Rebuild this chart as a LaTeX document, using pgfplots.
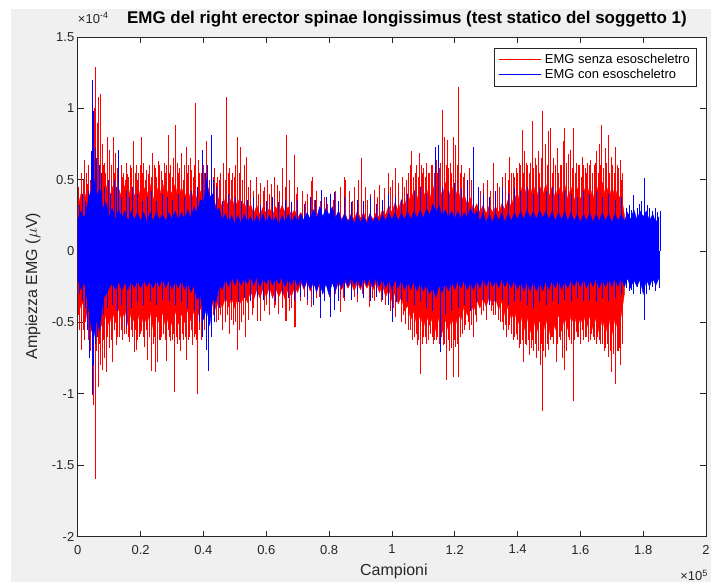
\documentclass[border=0pt]{standalone}
\usepackage{fontspec}
\setmainfont{Liberation Sans}
\usepackage{pgfplots}
\pgfplotsset{compat=1.18}
\usepackage{pgfplotstable}
\definecolor{figgray}{RGB}{240,240,240}
\definecolor{axgray}{RGB}{38,38,38}

\pgfplotstableread{
x u l
0 0.30 -0.30
1 0.40 -0.40
2 0.34 -0.33
3 0.44 -0.48
4 0.38 -0.58
5 0.50 -0.50
6 0.42 -0.60
7 0.50 -0.48
8 0.40 -0.55
9 0.46 -0.44
10 0.36 -0.52
11 0.45 -0.42
12 0.34 -0.50
13 0.44 -0.40
14 0.37 -0.49
15 0.46 -0.41
16 0.35 -0.52
17 0.47 -0.43
18 0.38 -0.50
19 0.48 -0.42
20 0.36 -0.54
21 0.45 -0.44
22 0.39 -0.52
23 0.47 -0.42
24 0.35 -0.55
25 0.46 -0.45
26 0.38 -0.51
27 0.48 -0.43
28 0.36 -0.54
29 0.45 -0.44
30 0.40 -0.52
31 0.47 -0.42
32 0.35 -0.51
33 0.45 -0.44
34 0.37 -0.50
35 0.44 -0.41
36 0.34 -0.49
37 0.43 -0.42
38 0.36 -0.47
39 0.42 -0.40
40 0.34 -0.44
41 0.40 -0.36
42 0.32 -0.42
43 0.39 -0.34
44 0.31 -0.41
45 0.38 -0.33
46 0.30 -0.40
47 0.37 -0.32
48 0.31 -0.39
49 0.38 -0.33
50 0.30 -0.40
51 0.36 -0.31
52 0.29 -0.37
53 0.34 -0.30
54 0.27 -0.36
55 0.33 -0.28
56 0.26 -0.34
57 0.32 -0.27
58 0.25 -0.33
59 0.31 -0.26
60 0.26 -0.32
61 0.30 -0.25
62 0.25 -0.33
63 0.31 -0.26
64 0.26 -0.32
65 0.32 -0.27
66 0.27 -0.34
67 0.31 -0.26
68 0.25 -0.32
69 0.29 -0.25
70 0.23 -0.29
71 0.27 -0.22
72 0.21 -0.27
73 0.26 -0.21
74 0.22 -0.28
75 0.27 -0.22
76 0.21 -0.26
77 0.26 -0.21
78 0.22 -0.27
79 0.27 -0.22
80 0.21 -0.26
81 0.26 -0.21
82 0.22 -0.28
83 0.28 -0.22
84 0.22 -0.27
85 0.27 -0.21
86 0.21 -0.26
87 0.26 -0.22
88 0.22 -0.28
89 0.28 -0.22
90 0.23 -0.27
91 0.27 -0.21
92 0.21 -0.26
93 0.26 -0.22
94 0.22 -0.27
95 0.27 -0.22
96 0.23 -0.29
97 0.29 -0.24
98 0.25 -0.32
99 0.32 -0.27
100 0.27 -0.35
101 0.34 -0.29
102 0.28 -0.37
103 0.36 -0.32
104 0.31 -0.42
105 0.40 -0.38
106 0.34 -0.48
107 0.43 -0.42
108 0.36 -0.53
109 0.45 -0.44
110 0.37 -0.54
111 0.44 -0.45
112 0.35 -0.52
113 0.46 -0.46
114 0.38 -0.56
115 0.47 -0.46
116 0.38 -0.57
117 0.48 -0.48
118 0.37 -0.56
119 0.46 -0.47
120 0.36 -0.55
121 0.44 -0.44
122 0.34 -0.48
123 0.40 -0.38
124 0.32 -0.45
125 0.37 -0.36
126 0.28 -0.42
127 0.33 -0.34
128 0.27 -0.40
129 0.32 -0.33
130 0.26 -0.39
131 0.32 -0.32
132 0.27 -0.38
133 0.31 -0.33
134 0.27 -0.41
135 0.33 -0.35
136 0.29 -0.45
137 0.36 -0.38
138 0.31 -0.48
139 0.40 -0.41
140 0.34 -0.52
141 0.45 -0.44
142 0.37 -0.56
143 0.46 -0.46
144 0.38 -0.57
145 0.47 -0.46
146 0.37 -0.58
147 0.46 -0.48
148 0.39 -0.60
149 0.47 -0.47
150 0.38 -0.58
151 0.45 -0.45
152 0.37 -0.55
153 0.46 -0.44
154 0.38 -0.56
155 0.47 -0.46
156 0.36 -0.55
157 0.45 -0.45
158 0.35 -0.52
159 0.44 -0.43
160 0.36 -0.51
161 0.45 -0.44
162 0.37 -0.54
163 0.46 -0.45
164 0.36 -0.55
165 0.47 -0.46
166 0.39 -0.58
167 0.48 -0.47
168 0.38 -0.58
169 0.46 -0.46
170 0.37 -0.59
171 0.45 -0.47
172 0.36 -0.56
173 0.40 -0.45
174 0.25 -0.30
}\redcore

\pgfplotstableread{
x u l
0 0.22 -0.20
1 0.28 -0.27
2 0.23 -0.22
3 0.32 -0.34
4 0.40 -0.50
5 0.52 -0.62
6 0.38 -0.48
7 0.44 -0.56
8 0.30 -0.34
9 0.34 -0.30
10 0.24 -0.26
11 0.30 -0.22
12 0.22 -0.27
13 0.29 -0.21
14 0.23 -0.28
15 0.28 -0.22
16 0.21 -0.27
17 0.28 -0.21
18 0.22 -0.26
19 0.27 -0.20
20 0.21 -0.26
21 0.27 -0.20
22 0.20 -0.25
23 0.27 -0.21
24 0.21 -0.26
25 0.28 -0.20
26 0.22 -0.25
27 0.26 -0.19
28 0.21 -0.26
29 0.27 -0.20
30 0.22 -0.27
31 0.28 -0.21
32 0.21 -0.26
33 0.27 -0.20
34 0.22 -0.27
35 0.29 -0.22
36 0.23 -0.29
37 0.31 -0.24
38 0.27 -0.34
39 0.36 -0.30
40 0.34 -0.48
41 0.50 -0.40
42 0.38 -0.52
43 0.40 -0.34
44 0.28 -0.36
45 0.30 -0.24
46 0.21 -0.27
47 0.26 -0.19
48 0.20 -0.25
49 0.25 -0.18
50 0.19 -0.24
51 0.25 -0.18
52 0.19 -0.24
53 0.26 -0.19
54 0.20 -0.23
55 0.24 -0.17
56 0.19 -0.24
57 0.25 -0.18
58 0.20 -0.25
59 0.26 -0.19
60 0.19 -0.23
61 0.25 -0.18
62 0.20 -0.24
63 0.24 -0.19
64 0.18 -0.23
65 0.25 -0.18
66 0.20 -0.25
67 0.26 -0.19
68 0.19 -0.24
69 0.25 -0.18
70 0.20 -0.25
71 0.26 -0.19
72 0.21 -0.26
73 0.27 -0.20
74 0.22 -0.27
75 0.29 -0.21
76 0.23 -0.29
77 0.31 -0.22
78 0.24 -0.30
79 0.30 -0.23
80 0.25 -0.31
81 0.31 -0.22
82 0.23 -0.28
83 0.28 -0.20
84 0.21 -0.26
85 0.26 -0.19
86 0.20 -0.25
87 0.25 -0.18
88 0.19 -0.24
89 0.26 -0.19
90 0.20 -0.25
91 0.25 -0.18
92 0.19 -0.24
93 0.26 -0.19
94 0.20 -0.25
95 0.25 -0.18
96 0.20 -0.25
97 0.26 -0.19
98 0.21 -0.26
99 0.27 -0.20
100 0.22 -0.27
101 0.27 -0.20
102 0.21 -0.26
103 0.27 -0.20
104 0.22 -0.27
105 0.28 -0.21
106 0.22 -0.27
107 0.28 -0.21
108 0.23 -0.28
109 0.29 -0.22
110 0.23 -0.28
111 0.30 -0.23
112 0.25 -0.30
113 0.33 -0.25
114 0.27 -0.33
115 0.32 -0.24
116 0.24 -0.29
117 0.29 -0.22
118 0.23 -0.28
119 0.28 -0.21
120 0.22 -0.27
121 0.28 -0.21
122 0.22 -0.26
123 0.27 -0.20
124 0.23 -0.27
125 0.30 -0.22
126 0.24 -0.27
127 0.28 -0.20
128 0.21 -0.26
129 0.27 -0.19
130 0.20 -0.25
131 0.26 -0.19
132 0.20 -0.25
133 0.27 -0.20
134 0.21 -0.26
135 0.27 -0.19
136 0.20 -0.25
137 0.27 -0.20
138 0.21 -0.26
139 0.27 -0.20
140 0.22 -0.27
141 0.28 -0.21
142 0.22 -0.28
143 0.29 -0.21
144 0.23 -0.28
145 0.28 -0.21
146 0.22 -0.28
147 0.29 -0.22
148 0.23 -0.28
149 0.28 -0.21
150 0.22 -0.27
151 0.28 -0.20
152 0.21 -0.26
153 0.27 -0.20
154 0.22 -0.27
155 0.28 -0.21
156 0.21 -0.26
157 0.27 -0.20
158 0.21 -0.25
159 0.26 -0.19
160 0.20 -0.25
161 0.26 -0.19
162 0.21 -0.26
163 0.27 -0.20
164 0.20 -0.25
165 0.26 -0.19
166 0.21 -0.26
167 0.27 -0.20
168 0.21 -0.25
169 0.26 -0.19
170 0.20 -0.25
171 0.26 -0.19
172 0.21 -0.25
173 0.26 -0.19
174 0.21 -0.25
175 0.27 -0.19
176 0.22 -0.26
177 0.29 -0.20
178 0.22 -0.25
179 0.28 -0.20
180 0.24 -0.30
181 0.28 -0.20
182 0.21 -0.25
183 0.26 -0.19
184 0.20 -0.24
185 0.24 -0.19
}\bluecore

\begin{document}
\begin{tikzpicture}
\fill[white] (0pt,0pt) rectangle (713pt,587pt);
\fill[figgray] (11pt,3pt) rectangle (713pt,578pt);
\begin{axis}[
  at={(78pt,49pt)}, anchor=south west,
  scale only axis, width=630pt, height=501pt,
  xmin=0, xmax=200, ymin=-2, ymax=1.5,
  xtick={0,20,...,200},
  xticklabels={0,0.2,0.4,0.6,0.8,1,1.2,1.4,1.6,1.8,2},
  ytick={-2,-1.5,-1,-0.5,0,0.5,1,1.5},
  yticklabels={-2,-1.5,-1,-0.5,0,0.5,1,1.5},
  tick align=inside, major tick length=6pt,
  axis line style={axgray, line width=0.6pt},
  tick style={axgray, line width=0.6pt},
  ticklabel style={font=\fontsize{13}{15}\selectfont, text=axgray},
  xticklabel style={yshift=-5pt},
  axis background/.style={fill=white},
  legend style={at={(0.984,0.978)}, anchor=north east,
    font=\fontsize{13}{15}\selectfont, draw=axgray, line width=0.5pt,
    inner xsep=4pt, inner ysep=4pt, row sep=0pt, cells={anchor=west}},
  legend image code/.code={\draw[#1, line width=0.5pt] (-2pt,0pt) -- (40pt,0pt);},
]
\addlegendimage{draw=red}
\addlegendentry{\hspace{2pt}EMG senza esoscheletro}
\addlegendimage{draw=blue}
\addlegendentry{\hspace{2pt}EMG con esoscheletro}

% red core
\addplot[fill=red, draw=red, line width=0.4pt, forget plot] table[x=x,y=u]{\redcore} \closedcycle;
\addplot[fill=red, draw=red, line width=0.4pt, forget plot] table[x=x,y=l]{\redcore} \closedcycle;
% red spikes
\addplot[ycomb, red, line width=0.6pt, forget plot] coordinates {
(0.3,0.45)(1.6,0.5)(2.6,0.55)(3.5,0.6)(4.5,0.58)(8.0,0.6)(8.9,0.55)(9.9,0.58)(10.7,0.6)(11.6,0.55)(12.5,0.58)(14.2,0.52)(15,0.5)(15.8,0.54)(16.6,0.6)(18.2,0.55)(19,0.5)(19.8,0.6)(20.6,0.55)(21.4,0.5)(22.3,0.54)(23.3,0.52)(24.2,0.6)(25.1,0.52)(26.1,0.6)(27,0.5)(27.9,0.55)(28.3,0.6)(29.1,0.55)(30,0.52)(30.4,0.65)(32,0.55)(32.8,0.62)(33.6,0.5)(34,0.6)(34.9,0.55)(35.8,0.65)(36.7,0.52)(37,0.6)(38.8,0.55)(39.6,0.5)(40.4,0.55)(41.3,0.5)(42.6,0.45)(43,0.52)(44,0.48)(45,0.5)(46.8,0.5)(47.9,0.55)(48.8,0.5)(49.7,0.52)(50.2,0.6)(51.3,0.55)(52.4,0.5)(54.4,0.45)(56,0.42)(57.4,0.4)(59,0.42)(61,0.4)(64.2,0.42)(66,0.45)(69.5,0.4)(72.3,0.35)(75.3,0.36)(77.2,0.35)(79.5,0.33)(81.2,0.36)(87.3,0.35)(92.3,0.36)(95.2,0.38)(99.4,0.45)(103.8,0.45)(105.3,0.55)(105.8,0.6)(106.8,0.52)(107.9,0.6)(108.3,0.52)(109.3,0.6)(109.7,0.55)(110.5,0.52)(111.5,0.55)(112.5,0.6)(113.5,0.55)(114.5,0.55)(115.5,0.62)(117.2,0.6)(118,0.58)(119,0.55)(120.8,0.6)(121.8,0.55)(122.7,0.52)(124,0.45)(125.2,0.5)(128.2,0.42)(131.2,0.42)(134.2,0.45)(137,0.5)(138.1,0.55)(139,0.52)(140,0.55)(141,0.6)(141.8,0.55)(142.7,0.62)(143.7,0.55)(144.2,0.62)(145.1,0.58)(146,0.6)(147,0.55)(147.5,0.65)(149.3,0.6)(151,0.55)(152,0.6)(153,0.55)(154,0.6)(155.4,0.62)(157.3,0.58)(158.3,0.55)(159.2,0.6)(160.2,0.52)(161,0.6)(161.9,0.55)(162.8,0.6)(163.8,0.55)(164.8,0.62)(165.6,0.55)(166.4,0.6)(167.3,0.58)(168.3,0.62)(169.3,0.55)(170.3,0.6)(170.7,0.55)(171.6,0.6)(172.2,0.58)(173,0.5)
};
\addplot[ycomb, red, line width=0.6pt, forget plot] coordinates {
(0.3,-0.45)(1.6,-0.55)(2.5,-0.5)(3.5,-0.62)(4.5,-0.65)(6,-0.7)(6.8,-0.65)(8.1,-0.62)(9.5,-0.6)(10.6,-0.62)(11.6,-0.55)(12.7,-0.6)(13.7,-0.55)(14.8,-0.58)(16,-0.6)(17,-0.55)(17.5,-0.6)(18.2,-0.55)(19,-0.62)(20,-0.58)(20.8,-0.6)(21.7,-0.55)(22.8,-0.6)(23.9,-0.65)(24.2,-0.6)(25.8,-0.62)(26.7,-0.6)(27.7,-0.62)(28.7,-0.55)(29,-0.6)(30,-0.62)(30.4,-0.58)(31.3,-0.6)(32.3,-0.62)(33.2,-0.58)(34.1,-0.6)(35.1,-0.62)(36,-0.55)(37,-0.6)(37.8,-0.62)(38.8,-0.55)(39.7,-0.58)(41,-0.5)(43,-0.45)(44,-0.5)(45.5,-0.45)(47.5,-0.45)(49,-0.48)(50.2,-0.5)(51.3,-0.55)(52.6,-0.45)(56,-0.4)(60,-0.38)(63,-0.38)(65,-0.4)(68,-0.4)(72,-0.32)(77,-0.32)(84.5,-0.33)(88,-0.32)(93.7,-0.33)(97,-0.33)(100.3,-0.4)(103.5,-0.45)(105.2,-0.55)(106.6,-0.62)(107.6,-0.58)(108.5,-0.62)(109.6,-0.65)(110.6,-0.6)(111.6,-0.62)(112.7,-0.6)(113.1,-0.65)(114,-0.62)(115,-0.65)(115.8,-0.6)(116.8,-0.65)(117.8,-0.62)(118.8,-0.68)(119.9,-0.62)(120.8,-0.65)(121.8,-0.6)(123,-0.55)(124.2,-0.5)(125.3,-0.52)(126.5,-0.45)(129.2,-0.42)(132.2,-0.45)(134,-0.48)(135,-0.5)(136,-0.52)(137,-0.55)(138,-0.58)(139,-0.6)(140,-0.62)(141,-0.65)(141.5,-0.62)(142.3,-0.65)(143.3,-0.62)(144.3,-0.68)(144.8,-0.62)(145.5,-0.65)(146.5,-0.7)(147.5,-0.65)(148.3,-0.7)(149.3,-0.65)(150.3,-0.62)(151,-0.6)(152.7,-0.65)(153.7,-0.62)(154.8,-0.65)(156,-0.6)(157,-0.65)(158.2,-0.62)(159,-0.6)(160,-0.65)(161,-0.62)(162,-0.6)(163,-0.62)(164,-0.6)(165,-0.65)(166,-0.62)(167,-0.65)(168,-0.68)(168.5,-0.65)(169.4,-0.7)(170.5,-0.72)(171.7,-0.7)(172.3,-0.68)(173.2,-0.6)
};
\addplot[ycomb, red, line width=0.7pt, forget plot] coordinates {
(1.1,0.55)(2.1,0.64)(3.0,0.47)(4.0,0.5)(5.2,1.0)(5.7,1.29)(6.3,0.9)(6.6,1.08)(7.1,1.1)(7.8,0.75)(8.4,0.62)(9.5,0.80)(10.2,0.71)(11.2,0.8)(12,0.69)(13,0.63)(13.8,0.6)(14.6,0.55)(15.4,0.62)(16.2,0.52)(17,0.58)(17.8,0.77)(18.6,0.6)(19.4,0.55)(20.2,0.80)(21,0.62)(21.9,0.57)(22.8,0.6)(23.8,0.69)(24.6,0.58)(25.7,0.63)(26.5,0.56)(27.4,0.62)(28.7,0.81)(29.5,0.6)(31.0,0.88)(31.8,0.62)(32.4,0.58)(33.0,0.69)(34.5,0.73)(35.3,0.6)(36.2,0.57)(37.5,1.04)(38.3,0.64)(39.2,0.55)(40.0,0.6)(40.8,0.77)(42,0.5)(43.5,0.58)(44.5,0.52)(45.5,0.55)(46.3,0.62)(47.4,1.08)(48.4,0.58)(49.2,0.55)(50.7,0.80)(51.9,0.73)(53,0.6)(53.8,0.66)(55,0.5)(56.8,0.52)(58,0.48)(59.5,0.45)(60.5,0.5)(61.5,0.47)(62.5,0.52)(63.5,0.46)(65.2,0.58)(66.5,0.81)(67.5,0.5)(68.9,0.67)(70,0.45)(71.5,0.42)(73,0.4)(74.2,0.49)(74.7,0.52)(76,0.42)(78.5,0.38)(80.5,0.4)(82,0.42)(83.5,0.45)(84.8,0.52)(85.1,0.5)(86.5,0.42)(88,0.45)(89.2,0.5)(90.3,0.65)(91.5,0.45)(93,0.4)(94.5,0.43)(96,0.46)(97.5,0.44)(98.8,0.55)(100,0.5)(101.2,0.58)(102.2,0.48)(103.3,0.52)(104.7,0.5)(106.3,0.70)(107.5,0.55)(108.8,0.69)(110,0.58)(111,0.62)(112,0.55)(113,0.6)(114,0.64)(115,0.58)(116,0.99)(116.8,0.80)(117.6,0.78)(118.5,0.62)(119.7,0.80)(120.3,0.74)(121.3,1.15)(122.2,0.6)(123.2,0.55)(124.5,0.58)(126,0.5)(127.5,0.45)(129,0.48)(130.5,0.5)(132.2,0.62)(133.5,0.48)(135,0.52)(136.2,0.55)(137.5,0.66)(138.6,0.55)(139.5,0.58)(140.5,0.62)(141.4,0.85)(142.2,0.7)(143.2,0.6)(144.6,0.91)(145.5,0.65)(146.5,0.7)(148.0,0.98)(148.8,0.75)(149.8,0.84)(150.4,0.86)(151.5,0.65)(152.5,0.72)(153.5,0.6)(154.6,0.77)(155,0.86)(156,0.68)(156.7,0.71)(157.8,0.86)(158.8,0.62)(159.6,0.6)(160.6,0.66)(161.5,0.58)(162.3,0.62)(163.3,0.64)(164.3,0.6)(165.2,0.7)(166,0.75)(166.8,0.88)(167.8,0.72)(168.9,0.81)(169.8,0.66)(171,0.73)(172.6,0.64)(173.4,0.55)
};
\addplot[ycomb, red, line width=0.7pt, forget plot] coordinates {
(0.6,-0.55)(1.1,-0.69)(2,-0.62)(3,-0.5)(4,-0.7)(5.0,-1.08)(5.7,-1.6)(6.4,-0.95)(7.2,-0.8)(7.7,-0.83)(8.5,-0.75)(9,-0.85)(10,-0.68)(11.1,-0.78)(12.2,-0.66)(13.2,-0.6)(14.3,-0.62)(15.5,-0.58)(16.5,-0.64)(17.9,-0.71)(18.6,-0.69)(19.5,-0.6)(20.3,-0.56)(21.2,-0.67)(22.3,-0.76)(23.4,-0.84)(24.7,-0.85)(25.3,-0.78)(26.2,-0.62)(27.2,-0.58)(28.2,-0.77)(29.5,-0.63)(30.8,-0.99)(31.8,-0.65)(32.8,-0.7)(33.7,-0.62)(34.6,-0.76)(35.6,-0.6)(36.5,-0.66)(37.4,-0.58)(38.2,-1.0)(39.3,-0.62)(40.2,-0.55)(42.5,-0.55)(43.5,-0.5)(44.8,-0.48)(46,-0.55)(47,-0.5)(48.2,-0.58)(49.5,-0.52)(50.7,-0.69)(52,-0.5)(53.2,-0.6)(54.2,-0.48)(55.5,-0.45)(57,-0.49)(58.1,-0.49)(59.5,-0.42)(61,-0.45)(62.5,-0.4)(64,-0.44)(66,-0.49)(66.3,-0.49)(67.5,-0.42)(68.9,-0.53)(69.3,-0.53)(71,-0.35)(73,-0.38)(74.5,-0.39)(76,-0.33)(78,-0.3)(80,-0.32)(82,-0.3)(83.6,-0.43)(85,-0.35)(87,-0.33)(89,-0.36)(90.5,-0.3)(92.9,-0.39)(94.5,-0.35)(96.5,-0.36)(98,-0.38)(99.5,-0.42)(101,-0.46)(102.9,-0.5)(104.4,-0.51)(106,-0.55)(107,-0.6)(108,-0.66)(109.1,-0.86)(110,-0.6)(111,-0.65)(112.2,-0.58)(113.5,-0.62)(114.5,-0.6)(116.3,-0.66)(117.4,-0.90)(118.3,-0.7)(119.4,-0.88)(120.3,-0.67)(121.3,-0.88)(122.5,-0.58)(123.5,-0.52)(124.8,-0.55)(125.9,-0.6)(127,-0.5)(128.5,-0.45)(130,-0.48)(131.5,-0.42)(133,-0.45)(134.5,-0.5)(135.5,-0.55)(136.5,-0.6)(137.5,-0.52)(138.5,-0.62)(139.5,-0.58)(140.5,-0.68)(141.9,-0.78)(142.8,-0.66)(143.8,-0.73)(145,-0.7)(146,-0.75)(147.1,-0.8)(147.9,-1.12)(148.8,-0.74)(149.8,-0.69)(150.8,-0.6)(151.5,-0.65)(152.2,-0.78)(153.2,-0.6)(154.4,-0.75)(155,-0.83)(155.5,-0.7)(156.5,-0.62)(157.8,-1.05)(158.6,-0.57)(159.5,-0.6)(160.5,-0.55)(161.5,-0.6)(162.5,-0.64)(163.5,-0.58)(164.5,-0.62)(165.5,-0.6)(166.5,-0.65)(167.5,-0.7)(168.9,-0.74)(170,-0.85)(171.2,-0.93)(172,-0.7)(172.7,-0.80)(173.5,-0.65)
};
% blue core
\addplot[fill=blue, draw=blue, line width=0.4pt, forget plot] table[x=x,y=u]{\bluecore} \closedcycle;
\addplot[fill=blue, draw=blue, line width=0.4pt, forget plot] table[x=x,y=l]{\bluecore} \closedcycle;
% blue spikes
\addplot[ycomb, blue, line width=0.7pt, forget plot] coordinates {
(0.5,0.32)(1.5,0.4)(2.5,0.35)(3.5,0.42)(4.2,0.7)(4.5,1.2)(4.8,0.98)(5.5,0.72)(6,0.65)(6.8,0.6)(7.5,0.55)(8.5,0.45)(9.8,0.5)(10.5,0.4)(11.5,0.5)(12.3,0.45)(13,0.71)(14,0.38)(15.5,0.42)(16.5,0.38)(17.5,0.45)(19,0.4)(20.5,0.35)(22,0.38)(23.5,0.42)(25,0.35)(27,0.4)(28.5,0.38)(30,0.36)(32,0.4)(34,0.38)(36,0.42)(38,0.45)(39.8,0.71)(40.5,0.55)(41.3,0.6)(42.4,0.81)(43.3,0.5)(44.2,0.45)(46,0.35)(48,0.4)(50,0.38)(52,0.35)(54,0.36)(56,0.38)(58,0.32)(60,0.35)(62,0.38)(64,0.34)(66,0.36)(68,0.34)(70,0.36)(72,0.33)(74,0.38)(75.5,0.36)(77.6,0.43)(79,0.38)(80.5,0.4)(81.8,0.41)(83,0.35)(85,0.38)(87,0.34)(89,0.36)(91,0.35)(93,0.38)(95,0.33)(97,0.36)(99,0.4)(101,0.38)(103,0.36)(105,0.4)(107,0.42)(109,0.45)(111,0.4)(113.8,0.73)(114.9,0.74)(116,0.45)(118,0.42)(120,0.48)(122,0.44)(124,0.5)(126,0.73)(127.5,0.45)(129,0.4)(131,0.38)(133,0.42)(135,0.45)(137,0.4)(139,0.44)(141,0.42)(143,0.45)(145,0.4)(147,0.44)(149,0.42)(151,0.45)(153,0.4)(155,0.42)(157,0.4)(159,0.38)(161,0.42)(163,0.4)(165,0.42)(167,0.38)(169,0.4)(171,0.36)(173,0.38)(174.5,0.3)(175.5,0.32)(176.1,0.29)(177,0.39)(178,0.3)(178.8,0.33)(179.5,0.35)(180.3,0.42)(180.5,0.51)(181.3,0.32)(182,0.3)(183,0.28)(183.8,0.3)(184.5,0.27)(185.3,0.28)
};
\addplot[ycomb, blue, line width=0.7pt, forget plot] coordinates {
(0.5,-0.3)(1.5,-0.35)(2.5,-0.4)(3.2,-0.55)(3.8,-0.75)(4.5,-1.01)(5,-0.8)(5.5,-0.65)(6.2,-0.6)(7,-0.55)(8,-0.45)(9.5,-0.4)(11,-0.38)(12.5,-0.42)(14,-0.38)(15.5,-0.53)(17,-0.4)(19,-0.36)(21,-0.38)(23,-0.35)(25,-0.38)(27,-0.34)(29,-0.36)(31,-0.38)(33,-0.36)(35,-0.4)(37,-0.42)(38.8,-0.5)(39.8,-0.6)(40.8,-0.69)(41.7,-0.84)(42.5,-0.6)(43.5,-0.5)(45,-0.4)(47,-0.35)(49,-0.34)(51,-0.36)(53,-0.33)(55,-0.35)(57,-0.32)(59,-0.34)(61,-0.33)(63,-0.35)(65,-0.3)(67,-0.33)(69,-0.35)(71,-0.32)(73,-0.34)(75,-0.38)(77.3,-0.47)(78.5,-0.35)(80.4,-0.46)(81.8,-0.41)(83,-0.35)(85,-0.32)(87,-0.34)(89,-0.3)(91,-0.33)(93,-0.35)(95,-0.32)(97,-0.34)(99,-0.38)(100.2,-0.5)(101.5,-0.36)(103,-0.34)(105,-0.36)(107,-0.38)(109,-0.35)(111,-0.4)(113,-0.42)(115.4,-0.71)(117,-0.45)(119,-0.42)(121,-0.4)(123,-0.38)(125,-0.42)(127,-0.36)(129,-0.34)(131,-0.38)(133,-0.36)(135,-0.34)(137,-0.38)(139,-0.36)(141,-0.35)(143,-0.38)(145,-0.4)(147,-0.36)(149,-0.38)(151,-0.35)(153,-0.37)(155,-0.34)(157,-0.36)(159,-0.33)(161,-0.35)(163,-0.34)(165,-0.36)(167,-0.33)(169,-0.35)(171,-0.33)(173,-0.3)(174.5,-0.26)(175.5,-0.28)(176.1,-0.27)(177,-0.3)(178,-0.25)(179,-0.3)(180.2,-0.48)(181,-0.3)(182,-0.27)(183,-0.25)(184,-0.28)(185,-0.26)
};
\end{axis}
\node[font=\bfseries\fontsize{17}{20}\selectfont, text=black] at (408pt,568pt) {EMG del right erector spinae longissimus (test statico del soggetto 1)};
\node[anchor=west, font=\fontsize{13}{15}\selectfont, text=axgray, inner sep=0pt] at (78pt,569pt) {×10\textsuperscript{-4}};
\node[anchor=east, font=\fontsize{13}{15}\selectfont, text=axgray, inner sep=0pt] at (710pt,10pt) {×10\textsuperscript{5}};
\node[font=\fontsize{16}{18}\selectfont, text=axgray] at (395pt,14pt) {Campioni};
\node[font=\fontsize{16}{18}\selectfont, text=axgray, rotate=90] at (33pt,300pt) {Ampiezza EMG ($\mu$V)};
\end{tikzpicture}
\end{document}
